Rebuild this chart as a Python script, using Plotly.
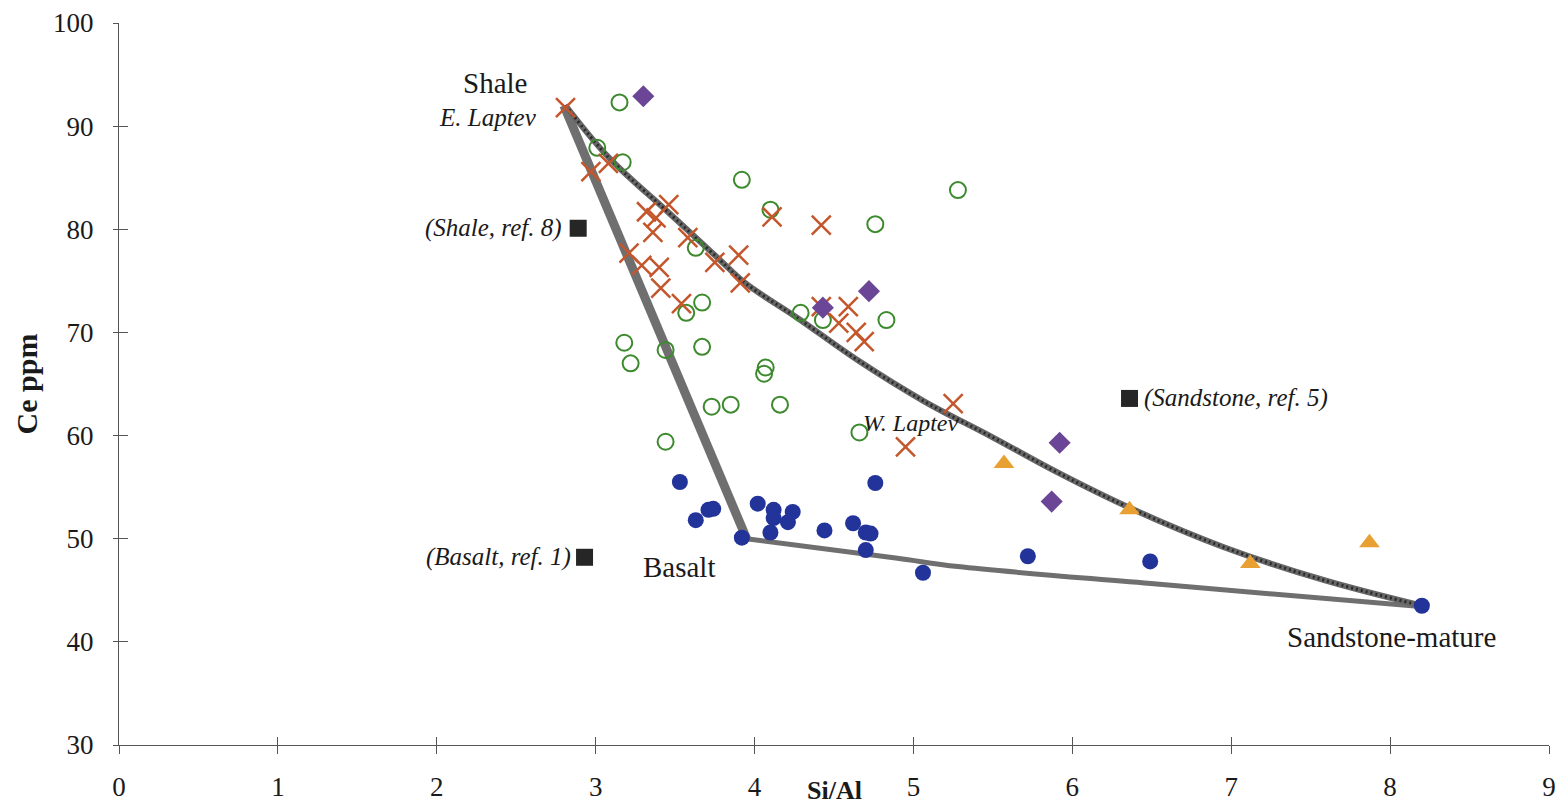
import plotly.graph_objects as go

# ---- data (Si/Al, Ce ppm) ----
east_x = [2.81, 2.97, 3.08, 3.46, 3.32, 3.38, 3.36, 3.58, 3.90, 3.75, 3.91, 3.21, 3.29,
          3.40, 3.41, 3.54, 4.11, 4.42, 4.42, 4.59, 4.53, 4.64, 4.69, 5.25, 4.95]
east_y = [91.8, 85.6, 86.4, 82.4, 81.7, 81.1, 79.7, 79.2, 77.5, 76.8, 74.8, 77.7, 76.5,
          76.3, 74.3, 72.8, 81.2, 80.4, 72.5, 72.5, 70.9, 70.0, 69.1, 63.1, 58.9]

green_x = [3.15, 3.01, 3.17, 3.92, 4.10, 5.28, 4.76, 3.63, 3.67, 3.57, 4.29, 4.43, 4.83,
           3.18, 3.22, 3.44, 3.67, 4.07, 4.06, 3.73, 3.85, 4.16, 3.44, 4.66]
green_y = [92.3, 87.9, 86.5, 84.8, 81.9, 83.8, 80.5, 78.2, 72.9, 71.9, 71.9, 71.2, 71.2,
           69.0, 67.0, 68.3, 68.6, 66.6, 66.0, 62.8, 63.0, 63.0, 59.4, 60.3]

blue_x = [3.53, 3.63, 3.71, 3.74, 3.92, 4.02, 4.12, 4.12, 4.10, 4.21, 4.24, 4.44, 4.62,
          4.70, 4.73, 4.70, 4.76, 5.06, 5.72, 6.49, 8.20]
blue_y = [55.5, 51.8, 52.8, 52.9, 50.1, 53.4, 52.8, 52.0, 50.6, 51.6, 52.6, 50.8, 51.5,
          50.6, 50.5, 48.9, 55.4, 46.7, 48.3, 47.8, 43.5]

purple_x = [3.30, 4.43, 4.72, 5.92, 5.87]
purple_y = [92.9, 72.4, 74.0, 59.3, 53.6]

orange_x = [5.57, 6.36, 7.12, 7.87]
orange_y = [57.3, 52.8, 47.6, 49.6]

ref_x = [2.89, 2.93, 6.36]
ref_y = [80.1, 48.2, 63.6]

# end-member mixing lines
shale_basalt_x = [2.80, 3.95]
shale_basalt_y = [92.0, 50.0]
basalt_sand_x = [3.95, 4.90, 5.28, 6.53, 8.21]
basalt_sand_y = [50.0, 48.1, 47.3, 45.6, 43.4]
curve_x = [2.81, 3.08, 3.46, 3.77, 3.94, 4.27, 4.65, 5.07, 5.49, 5.91, 6.36, 6.95, 7.58, 8.20]
curve_y = [92.0, 87.0, 81.6, 77.2, 74.8, 71.4, 67.3, 63.3, 59.9, 56.4, 53.0, 49.2, 46.0, 43.5]

x_ticks = [0, 1, 2, 3, 4, 5, 6, 7, 8, 9]
y_ticks = [30, 40, 50, 60, 70, 80, 90, 100]

SERIF = "Liberation Serif, Times New Roman, serif"
GREY = "#6f6f6f"

fig = go.Figure()

fig.add_trace(go.Scatter(x=shale_basalt_x, y=shale_basalt_y, mode="lines",
                         line=dict(color=GREY, width=9), hoverinfo="skip", showlegend=False))
fig.add_trace(go.Scatter(x=basalt_sand_x, y=basalt_sand_y, mode="lines", line_shape="spline",
                         line=dict(color=GREY, width=5), hoverinfo="skip", showlegend=False))
# Shale-Sandstone mixing curve (saw-tooth look)
fig.add_trace(go.Scatter(x=curve_x, y=curve_y, mode="lines", line_shape="spline",
                         line=dict(color="#666666", width=6), hoverinfo="skip", showlegend=False))
fig.add_trace(go.Scatter(x=curve_x, y=curve_y, mode="lines", line_shape="spline",
                         line=dict(color="#2a2a2a", width=3, dash="2px,3px"),
                         hoverinfo="skip", showlegend=False))

# samples
fig.add_trace(go.Scatter(x=green_x, y=green_y, mode="markers", showlegend=False,
                         marker=dict(symbol="circle-open", size=16, color="#3d8a2e",
                                     line=dict(width=2, color="#3d8a2e"))))
fig.add_trace(go.Scatter(x=east_x, y=east_y, mode="markers", showlegend=False,
                         marker=dict(symbol="x-thin-open", size=19, color="#c4562c",
                                     line=dict(width=2.5, color="#c4562c"))))
fig.add_trace(go.Scatter(x=blue_x, y=blue_y, mode="markers", showlegend=False,
                         marker=dict(symbol="circle", size=16, color="#22339a")))
fig.add_trace(go.Scatter(x=purple_x, y=purple_y, mode="markers", showlegend=False,
                         marker=dict(symbol="diamond", size=17, color="#6b4696")))
fig.add_trace(go.Scatter(x=orange_x, y=orange_y, mode="markers", showlegend=False,
                         marker=dict(symbol="triangle-up", size=18, color="#e9a033")))
fig.add_trace(go.Scatter(x=ref_x, y=ref_y, mode="markers", showlegend=False,
                         marker=dict(symbol="square", size=17, color="#262626")))

# dummy trace for inside tick marks
fig.add_trace(go.Scatter(x=[0], y=[30], xaxis="x2", yaxis="y2", mode="markers",
                         marker=dict(size=1, opacity=0), hoverinfo="skip", showlegend=False))

ann = [
    dict(x=2.8, y=92.0, text="Shale", xanchor="right", yanchor="bottom", xshift=-35, yshift=5,
         font=dict(size=29)),
    dict(x=2.8, y=92.0, text="<i>E. Laptev</i>", xanchor="right", yanchor="middle", xshift=-25, yshift=-12,
         font=dict(size=25)),
    dict(x=ref_x[0], y=ref_y[0], text="<i>(Shale, ref. 8)</i>", xanchor="right", xshift=-14,
         font=dict(size=25)),
    dict(x=ref_x[1], y=ref_y[1], text="<i>(Basalt, ref. 1)</i>", xanchor="right", xshift=-12,
         font=dict(size=25)),
    dict(x=ref_x[2], y=ref_y[2], text="<i>(Sandstone, ref. 5)</i>", xanchor="left", xshift=12,
         font=dict(size=25)),
    dict(x=shale_basalt_x[1], y=shale_basalt_y[1], text="Basalt", xanchor="center", yanchor="top",
         xshift=-67, yshift=-10, font=dict(size=29)),
    dict(x=4.67, y=61.2, text="<i>W. Laptev</i>", xanchor="left", font=dict(size=24)),
    dict(x=basalt_sand_x[-1], y=basalt_sand_y[-1], text="Sandstone-mature", xanchor="center",
         yanchor="top", xshift=-32, yshift=-12, font=dict(size=29)),
    dict(x=0.5, y=0, xref="paper", yref="paper", yanchor="top", yshift=-29,
         text="<b>Si/Al</b>", showarrow=False, font=dict(size=26)),
]
for a in ann:
    a.setdefault("showarrow", False)
    a["font"]["family"] = SERIF
    a["font"]["color"] = "#1a1a1a"

axis_common = dict(showgrid=False, zeroline=False, showline=True, linecolor="#555",
                   linewidth=1, tickcolor="#555", tickwidth=1,
                   tickfont=dict(family=SERIF, size=27, color="#1a1a1a"))

fig.update_layout(
    width=1563, height=809,
    margin=dict(l=119, r=7, t=23, b=64),
    paper_bgcolor="white", plot_bgcolor="white",
    font=dict(family=SERIF),
    xaxis=dict(range=[0, 9], tickvals=x_ticks, ticks="outside", ticklen=8,
               ticklabelstandoff=10, **axis_common),
    yaxis=dict(range=[30, 100], tickvals=y_ticks, ticks="outside", ticklen=5,
               ticklabelstandoff=14,
               title=dict(text="<b>Ce ppm</b>", font=dict(family=SERIF, size=30, color="#1a1a1a"),
                          standoff=6),
               **axis_common),
    xaxis2=dict(range=[0, 9], tickvals=x_ticks, ticks="inside", ticklen=8, overlaying="x",
                anchor="y2", side="bottom", showticklabels=False, showgrid=False, zeroline=False,
                showline=False, tickcolor="#555"),
    yaxis2=dict(range=[30, 100], tickvals=y_ticks, ticks="inside", ticklen=9, overlaying="y",
                anchor="x2", side="left", showticklabels=False, showgrid=False, zeroline=False,
                showline=False, tickcolor="#555"),
    annotations=ann,
)

fig.write_html("out.html")
